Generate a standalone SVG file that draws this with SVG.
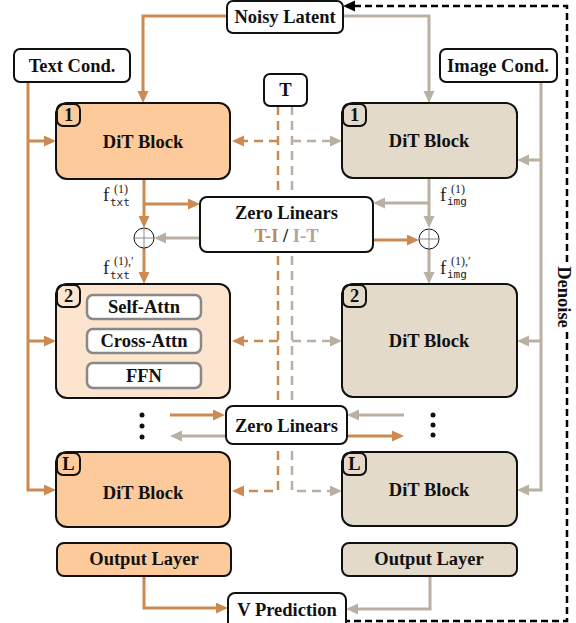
<svg xmlns="http://www.w3.org/2000/svg" width="576" height="623" viewBox="0 0 576 623">
  <defs>
    <marker id="arrOrange" markerUnits="userSpaceOnUse" markerWidth="13" markerHeight="12" refX="1" refY="5.5" orient="auto">
      <path d="M0,0 L12,5.5 L0,11 z" fill="#CC8A52"/>
    </marker>
    <marker id="arrGray" markerUnits="userSpaceOnUse" markerWidth="13" markerHeight="12" refX="1" refY="5.5" orient="auto">
      <path d="M0,0 L12,5.5 L0,11 z" fill="#B9B0A2"/>
    </marker>
    <marker id="arrBlack" markerUnits="userSpaceOnUse" markerWidth="13" markerHeight="12" refX="1" refY="5.5" orient="auto">
      <path d="M0,0 L12,5.5 L0,11 z" fill="#000"/>
    </marker>
  </defs>
  <style>
    .lbl { font-family: "Liberation Serif", "Times New Roman", serif; font-weight: bold; font-size: 18.5px; fill: #111; text-anchor: middle; }
    .box { fill: #fff; stroke: #111; stroke-width: 2; }
    .blkT { fill: #FDCB9B; stroke: #111; stroke-width: 2; }
    .blkT2 { fill: #FDE4CF; stroke: #111; stroke-width: 2; }
    .blkI { fill: #E3DACA; stroke: #111; stroke-width: 2; }
    .badge { fill: none; stroke: #111; stroke-width: 2; }
    .inner { fill: #fff; stroke: #888; stroke-width: 2.5; }
    .o { fill: none; stroke: #CC8A52; stroke-width: 3; }
    .g { fill: none; stroke: #B9B0A2; stroke-width: 3; }
    .od { fill: none; stroke: #CC8A52; stroke-width: 2.5; stroke-dasharray: 9 6; }
    .gd { fill: none; stroke: #B9B0A2; stroke-width: 2.5; stroke-dasharray: 9 6; }
    .kd { fill: none; stroke: #000; stroke-width: 2.5; stroke-dasharray: 7 4; }
    .ao { marker-end: url(#arrOrange); }
    .ag { marker-end: url(#arrGray); }
    .f { font-family: "Liberation Serif", serif; font-size: 19px; fill: #222; }
    .sup { font-family: "Liberation Serif", serif; font-size: 12px; fill: #222; }
    .sub { font-family: "DejaVu Sans Mono", "Liberation Mono", monospace; font-size: 11px; fill: #222; }
  </style>

  <g id="connectors">
    <!-- text stream (orange) -->
    <path class="o ao" d="M227,16 H143 V92"/>
    <path class="o ao" d="M28,82 V490 H45"/>
    <path class="o ao" d="M28,141 H45"/>
    <path class="o ao" d="M28,341 H45"/>
    <path class="o ao" d="M144,179 V217"/>
    <path class="o ao" d="M144,204 H189"/>
    <path class="o ao" d="M144,248 V273"/>
    <path class="o ao" d="M373,240 H408"/>
    <path class="o ao" d="M170,415 H214"/>
    <path class="o ao" d="M347,436 H393"/>
    <path class="o ao" d="M144,576 V608 H217"/>
    <!-- image stream (gray) -->
    <path class="g ag" d="M343,16 H429 V92"/>
    <path class="g ag" d="M541,82 V490 H528"/>
    <path class="g ag" d="M541,160 H528"/>
    <path class="g ag" d="M541,341 H528"/>
    <path class="g ag" d="M429,178 V217"/>
    <path class="g ag" d="M429,203 H384"/>
    <path class="g ag" d="M200,238 H165"/>
    <path class="g ag" d="M429,249 V273"/>
    <path class="g ag" d="M226,436 H181"/>
    <path class="g ag" d="M404,415 H358"/>
    <path class="g ag" d="M430,576 V609 H357"/>
    <!-- timestep (dashed) -->
    <path class="od ao" d="M278,106 V491 H243"/>
    <path class="od ao" d="M278,141 H243"/>
    <path class="od ao" d="M278,341 H243"/>
    <path class="gd ag" d="M292,106 V491 H331"/>
    <path class="gd ag" d="M292,141 H331"/>
    <path class="gd ag" d="M292,341 H331"/>
    <!-- denoise loop -->
    <path class="kd" d="M567,262 V6 H354" marker-end="url(#arrBlack)"/>
    <path class="kd" d="M567,332 V621 H347"/>
    <text class="lbl" x="0" y="0" transform="translate(558,297) rotate(90)">Denoise</text>
    <!-- sum nodes -->
    <g id="sum-txt">
      <circle cx="144" cy="238" r="10" fill="#fff" stroke="#111" stroke-width="1"/>
      <path d="M134,238 H154 M144,228 V248" stroke="#888" stroke-width="1"/>
    </g>
    <g id="sum-img">
      <circle cx="429" cy="239" r="10" fill="#fff" stroke="#111" stroke-width="1"/>
      <path d="M419,239 H439 M429,229 V249" stroke="#888" stroke-width="1"/>
    </g>
    <!-- feature labels -->
    <text class="f" x="103" y="201">f</text>
    <text class="sup" x="114" y="193">(1)</text>
    <text class="sub" x="110" y="206">txt</text>
    <text class="f" x="103" y="274">f</text>
    <text class="sup" x="114" y="265">(1),′</text>
    <text class="sub" x="110" y="279">txt</text>
    <text class="f" x="440" y="201">f</text>
    <text class="sup" x="451" y="193">(1)</text>
    <text class="sub" x="447" y="205">img</text>
    <text class="f" x="440" y="274">f</text>
    <text class="sup" x="451" y="265">(1),′</text>
    <text class="sub" x="447" y="278">img</text>
    <!-- ellipses between blocks -->
    <circle cx="142" cy="415" r="2.5" fill="#111"/>
    <circle cx="142" cy="426" r="2.5" fill="#111"/>
    <circle cx="142" cy="437" r="2.5" fill="#111"/>
    <circle cx="433" cy="415" r="2.5" fill="#111"/>
    <circle cx="433" cy="425" r="2.5" fill="#111"/>
    <circle cx="433" cy="435" r="2.5" fill="#111"/>
  </g>

  <g id="noisy-latent">
    <rect class="box" x="227" y="1" width="116" height="32" rx="6"/>
    <text class="lbl" x="285" y="23">Noisy Latent</text>
  </g>
  <g id="text-cond">
    <rect class="box" x="14" y="49" width="116" height="33" rx="6"/>
    <text class="lbl" x="72" y="72">Text Cond.</text>
  </g>
  <g id="image-cond">
    <rect class="box" x="440" y="49" width="117" height="33" rx="6"/>
    <text class="lbl" x="498" y="72">Image Cond.</text>
  </g>
  <g id="timestep">
    <rect class="box" x="264" y="74" width="43" height="32" rx="6"/>
    <text class="lbl" x="285.5" y="96">T</text>
  </g>

  <g id="txt-block-1">
    <rect class="blkT" x="56" y="103" width="174" height="76" rx="11"/>
    <rect class="badge" x="57" y="104" width="23" height="22" rx="6"/>
    <text class="lbl" x="68.5" y="121">1</text>
    <text class="lbl" x="143" y="148">DiT Block</text>
  </g>
  <g id="img-block-1">
    <rect class="blkI" x="342" y="103" width="175" height="75" rx="11"/>
    <rect class="badge" x="343" y="104" width="23" height="22" rx="6"/>
    <text class="lbl" x="354.5" y="121">1</text>
    <text class="lbl" x="429" y="147">DiT Block</text>
  </g>

  <g id="zero-linears-1">
    <rect class="box" x="200" y="197" width="173" height="55" rx="7"/>
    <text class="lbl" x="286.5" y="219">Zero Linears</text>
    <text class="lbl" x="286.5" y="242"><tspan fill="#C98650">T-I</tspan> / <tspan fill="#B0A799">I-T</tspan></text>
  </g>

  <g id="txt-block-2">
    <rect class="blkT2" x="56" y="284" width="174" height="114" rx="11"/>
    <rect class="badge" x="57" y="285" width="23" height="22" rx="6"/>
    <text class="lbl" x="68.5" y="302">2</text>
    <rect class="inner" x="87" y="295" width="114" height="24" rx="6"/>
    <text class="lbl" x="144" y="313">Self-Attn</text>
    <rect class="inner" x="87" y="329" width="114" height="24" rx="6"/>
    <text class="lbl" x="144" y="347">Cross-Attn</text>
    <rect class="inner" x="87" y="363" width="114" height="25" rx="6"/>
    <text class="lbl" x="144" y="382">FFN</text>
  </g>
  <g id="img-block-2">
    <rect class="blkI" x="342" y="284" width="175" height="113" rx="11"/>
    <rect class="badge" x="343" y="285" width="23" height="22" rx="6"/>
    <text class="lbl" x="354.5" y="302">2</text>
    <text class="lbl" x="429" y="347">DiT Block</text>
  </g>

  <g id="zero-linears-2">
    <rect class="box" x="226" y="406" width="121" height="38" rx="7"/>
    <text class="lbl" x="286.5" y="432">Zero Linears</text>
  </g>

  <g id="txt-block-L">
    <rect class="blkT" x="56" y="452" width="174" height="75" rx="11"/>
    <rect class="badge" x="57" y="453" width="23" height="22" rx="6"/>
    <text class="lbl" x="68.5" y="470">L</text>
    <text class="lbl" x="143" y="499">DiT Block</text>
  </g>
  <g id="img-block-L">
    <rect class="blkI" x="342" y="452" width="175" height="74" rx="11"/>
    <rect class="badge" x="343" y="453" width="23" height="22" rx="6"/>
    <text class="lbl" x="354.5" y="470">L</text>
    <text class="lbl" x="429" y="496">DiT Block</text>
  </g>

  <g id="txt-output">
    <rect class="blkT" x="57" y="543" width="174" height="33" rx="7" stroke-width="1.5"/>
    <text class="lbl" x="144" y="565">Output Layer</text>
  </g>
  <g id="img-output">
    <rect class="blkI" x="342" y="543" width="175" height="33" rx="7" stroke-width="1.5"/>
    <text class="lbl" x="429" y="565">Output Layer</text>
  </g>

  <g id="v-prediction">
    <rect class="box" x="228" y="593" width="118" height="36" rx="7"/>
    <text class="lbl" x="287" y="616">V Prediction</text>
  </g>
</svg>
